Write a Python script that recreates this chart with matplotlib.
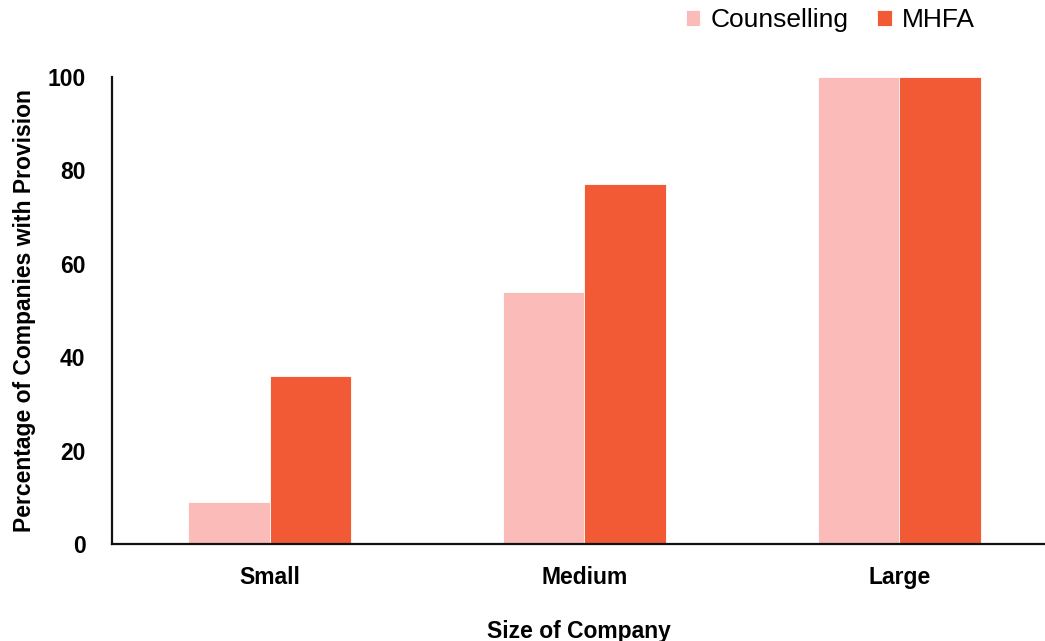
import matplotlib

matplotlib.use("Agg")
import matplotlib.pyplot as plt
import numpy as np

CATEGORIES = ["Small", "Medium", "Large"]
COUNSELLING = [9, 54, 100]
MHFA = [36, 77, 100]

C_COUNS = "#FBBCB9"
C_MHFA = "#F15A35"

plt.rcParams.update({"font.family": ["Liberation Sans", "DejaVu Sans"]})

fig = plt.figure(figsize=(10.45, 6.41), dpi=100, facecolor="white")
ax = fig.add_axes([112 / 1045, 97 / 641, 933 / 1045, 467 / 641])

x = np.arange(len(CATEGORIES))
w = 0.26
ax.bar(x - w / 2, COUNSELLING, w, color=C_COUNS, edgecolor="white", linewidth=0.6, label="Counselling")
ax.bar(x + w / 2, MHFA, w, color=C_MHFA, edgecolor="white", linewidth=0.6, label="MHFA")

ax.set_xlim(-0.5, -0.5 + 933 / 315)
ax.set_ylim(0, 100)
ax.set_yticks([0, 20, 40, 60, 80, 100])
ax.set_xticks(x)
ax.set_xticklabels(CATEGORIES)
ax.tick_params(length=0, labelsize=16.5)
ax.tick_params(axis="y", pad=19)
ax.tick_params(axis="x", pad=16)
for lab in ax.get_xticklabels() + ax.get_yticklabels():
    lab.set_fontweight("bold")

for s in ("top", "right"):
    ax.spines[s].set_visible(False)
for s in ("left", "bottom"):
    ax.spines[s].set_linewidth(1.6)
    ax.spines[s].set_color("#111111")

ax.set_ylabel("Percentage of Companies with Provision", fontsize=16.5, fontweight="bold", labelpad=8)
ax.set_xlabel("Size of Company", fontsize=16.5, fontweight="bold", labelpad=22)

ax.legend(loc="center right", bbox_to_anchor=(975 / 1045, 1 - 20 / 641),
          bbox_transform=fig.transFigure, ncol=2, frameon=False, borderpad=0, borderaxespad=0,
          fontsize=19, handlelength=0.55, handleheight=0.55, handletextpad=0.38, columnspacing=1.1)

fig.savefig("out.png", dpi=100, facecolor="white")
